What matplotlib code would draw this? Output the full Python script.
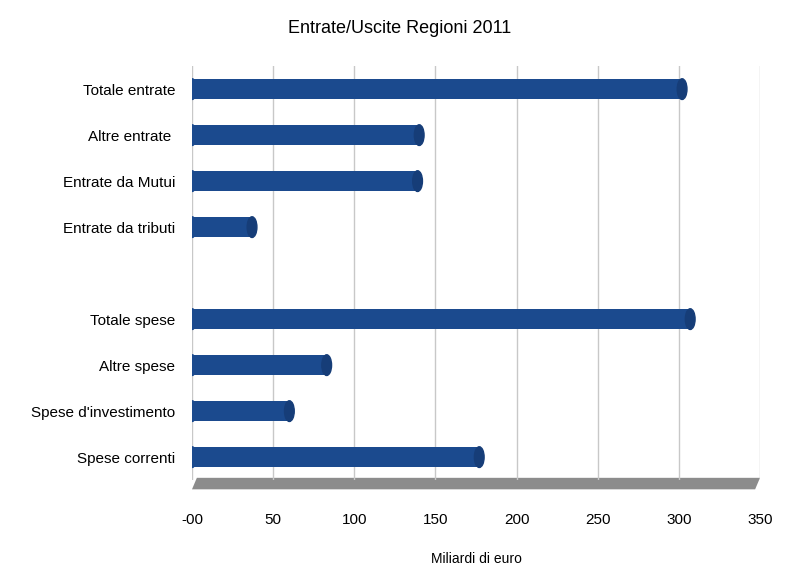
import numpy as np
import matplotlib.pyplot as plt
from matplotlib.patches import Polygon, Ellipse

plt.rcParams['font.family'] = ['Liberation Sans', 'DejaVu Sans']

categories = ["Totale entrate", "Altre entrate ", "Entrate da Mutui", "Entrate da tributi", "",
              "Totale spese", "Altre spese", "Spese d'investimento", "Spese correnti"]
values = [302, 140, 139, 37, np.nan, 307, 83, 60, 177]
tick_vals = [0, 50, 100, 150, 200, 250, 300, 350]
tick_labels = ["-00", "50", "100", "150", "200", "250", "300", "350"]

fig = plt.figure(figsize=(8, 5.75), dpi=100)
ax = fig.add_axes([0.24, 0.165, 0.71, 0.72])

y = np.arange(len(categories))
color = "#1b4a8e"
h = 0.45
for yi, v in zip(y, values):
    if np.isnan(v):
        continue
    ax.barh(yi, v, height=h, color=color, zorder=3)
    ax.add_patch(Ellipse((v, yi), 6, h, color="#163d78", zorder=4))
    ax.add_patch(Ellipse((0, yi), 6, h, color=color, zorder=4))

ax.set_xlim(0, 350)
ax.set_ylim(len(categories) - 0.5, -0.5)
ax.set_yticks(y)
ax.set_yticklabels(categories, fontsize=11)
ax.set_xticks(tick_vals)
ax.set_xticklabels(tick_labels, fontsize=11)
ax.tick_params(axis="y", length=0, pad=12)
ax.tick_params(axis="x", length=0, pad=24)
ax.xaxis.grid(True, color="#c8c8c8", linewidth=1, zorder=0)
for s in ax.spines.values():
    s.set_visible(False)

# 3D floor
floor = Polygon([(3, 8.45), (350, 8.45), (347, 8.7), (0, 8.7)], closed=True,
                facecolor="#8c8c8c", edgecolor="none", clip_on=False, zorder=1)
ax.add_patch(floor)

ax.set_xlabel("Miliardi di euro", fontsize=10, labelpad=18)
fig.suptitle("Entrate/Uscite Regioni 2011", fontsize=13, y=0.965)

plt.savefig("out.png")
